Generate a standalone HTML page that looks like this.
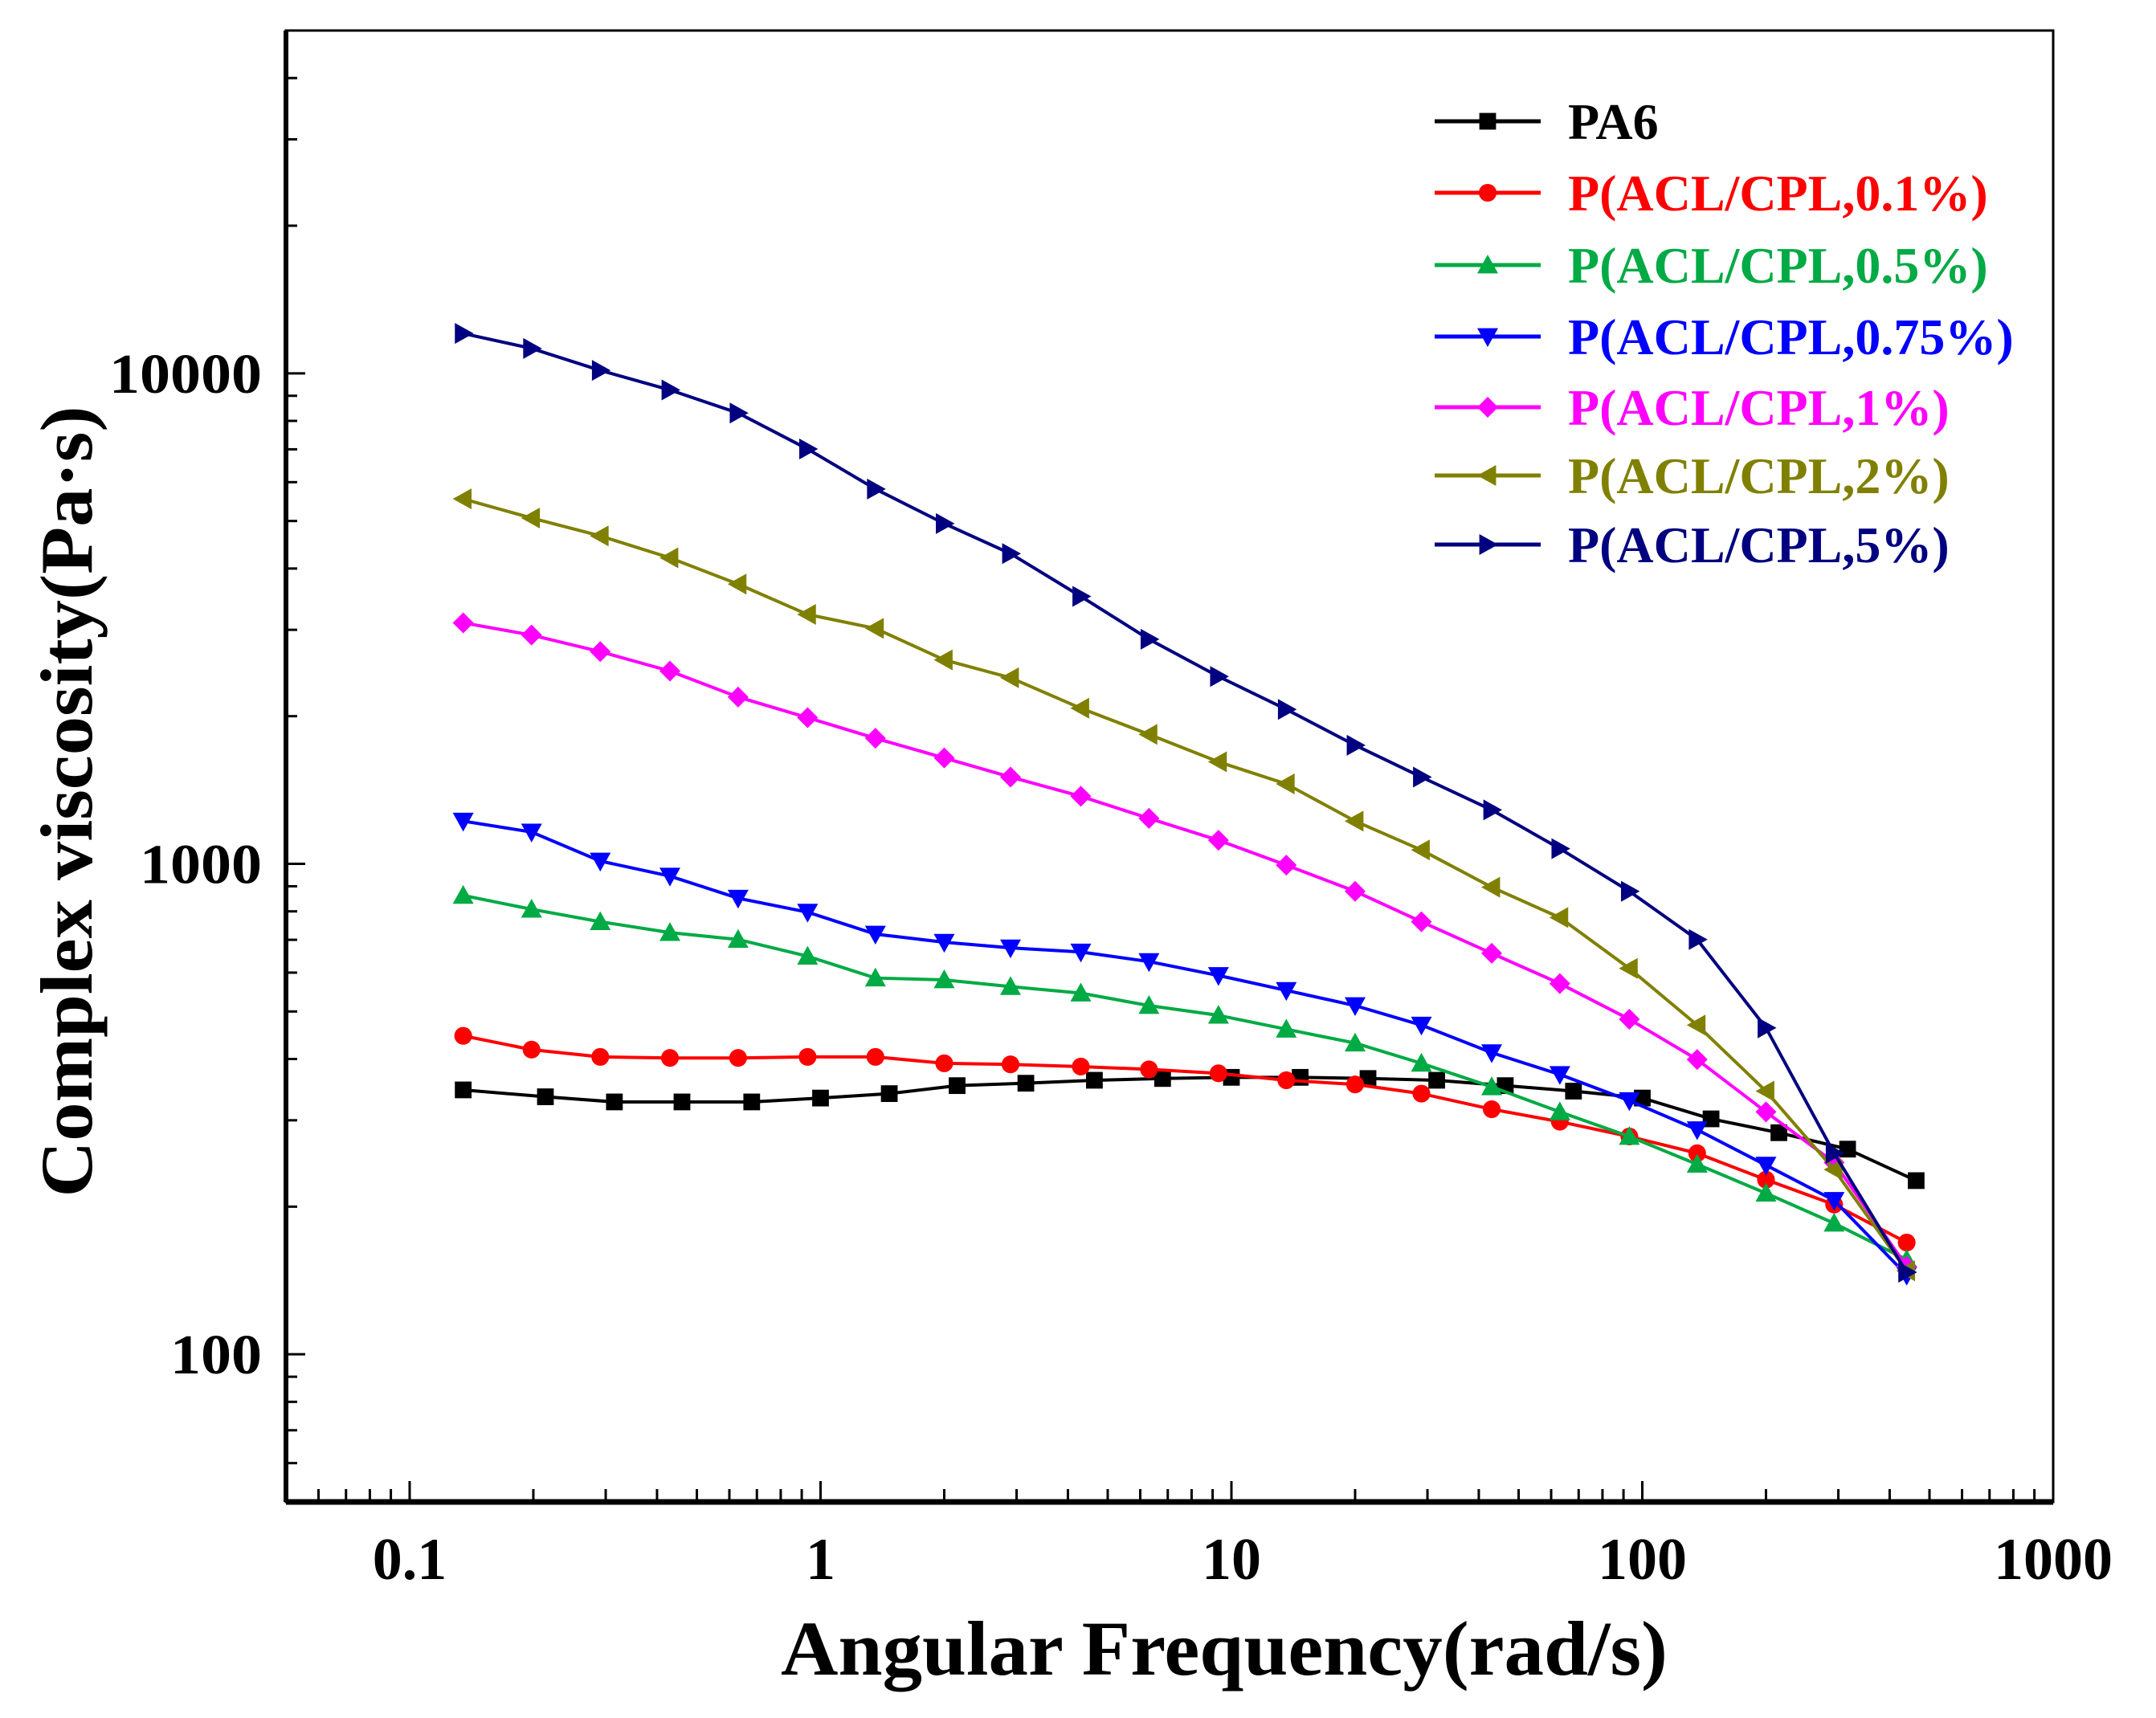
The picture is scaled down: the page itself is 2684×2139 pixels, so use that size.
<!DOCTYPE html>
<html><head><meta charset="utf-8"><style>
html,body{margin:0;padding:0;background:#fff;}
svg{display:block;font-family:"Liberation Serif",serif;font-weight:bold;}
</style></head><body>
<svg id="chart" width="2684" height="2139" viewBox="0 0 2684 2139" xmlns="http://www.w3.org/2000/svg">
<g id="plot"></g>
</svg>
<script>
const xStd = [0.135,0.198,0.291,0.43,0.63,0.93,1.36,2,2.9,4.3,6.3,9.3,13.6,20,29,43,63,93,136,200,293,440];
const xPA6 = [0.135,0.214,0.315,0.46,0.68,1,1.47,2.15,3.16,4.64,6.8,10,14.7,21.5,31.6,46.4,68,100,147,215,316,464];
const yPA6 = [346,335,327,327,327,333,340,353,357,362,365,367,367,365,362,353,344,333,302,283,262,226];
const yP01 = [446,418,404,402,402,404,404,392,390,386,381,374,362,355,340,316,298,278,257,227,202,169];
const yP05 = [862,808,762,724,701,648,585,580,562,545,514,491,460,431,392,351,312,278,244,213,185,156];
const yP075 = [1222,1161,1013,944,851,797,719,692,674,661,632,592,552,514,469,412,372,329,287,243,206,145];
const yP1 = [3100,2927,2708,2472,2188,1986,1803,1644,1503,1373,1238,1117,994,879,762,657,570,482,399,312,246,151];
const yP2 = [5546,5070,4662,4206,3718,3224,3020,2605,2395,2076,1836,1614,1455,1222,1067,896,777,612,469,344,238,148];
const yP5 = [12060,11240,10140,9250,8300,7010,5810,4940,4290,3510,2870,2410,2065,1745,1503,1288,1074,879,701,463,257,147];
const seriesNames = ["PA6","P(ACL/CPL,0.1%)","P(ACL/CPL,0.5%)","P(ACL/CPL,0.75%)","P(ACL/CPL,1%)","P(ACL/CPL,2%)","P(ACL/CPL,5%)"];
const xTickVals = [0.1,1,10,100,1000];
const xTickLabels = ["0.1","1","10","100","1000"];
const yTickVals = [100,1000,10000];
const yTickLabels = ["100","1000","10000"];

const NS="http://www.w3.org/2000/svg";
const L=356,R=2556,T=38,B=1870;
const xmin=Math.log10(0.05),xmax=3, ymin=Math.log10(50),ymax=Math.log10(50000);
const X=v=>L+(Math.log10(v)-xmin)/(xmax-xmin)*(R-L);
const Y=v=>B-(Math.log10(v)-ymin)/(ymax-ymin)*(B-T);
const g=document.getElementById('plot');
function mk(tag,attrs,parent){const e=document.createElementNS(NS,tag);for(const k in attrs)e.setAttribute(k,attrs[k]);(parent||g).appendChild(e);return e;}

const frame=mk('rect',{x:L,y:T,width:R-L,height:B-T,fill:'none',stroke:'#000','stroke-width':3});


mk('line',{x1:L,y1:T,x2:L,y2:B,stroke:'#000','stroke-width':6});
mk('line',{x1:L,y1:B,x2:R,y2:B,stroke:'#000','stroke-width':7});

for(let d=-2;d<=2;d++){for(let m=1;m<=9;m++){const v=m*Math.pow(10,d);if(v<0.05||v>1000)continue;const x=X(v);
 const len=m==1?26:16;const t=mk('line',{x1:x,y1:B,x2:x,y2:B-len,stroke:'#000','stroke-width':3});
 
 }}
mk('line',{x1:X(1000),y1:B,x2:X(1000),y2:B-26,stroke:'#000','stroke-width':3});
xTickVals.forEach((v,i)=>{const t=mk('text',{x:X(v),y:1966,'text-anchor':'middle','font-size':74});t.textContent=xTickLabels[i];
 
 });
for(let d=1;d<=4;d++){for(let m=1;m<=9;m++){const v=m*Math.pow(10,d);if(v<50||v>50000)continue;const y=Y(v);
 const len=m==1?24:14;const t=mk('line',{x1:L,y1:y,x2:L+len,y2:y,stroke:'#000','stroke-width':3});
 
 }}
yTickVals.forEach((v,i)=>{const t=mk('text',{x:326,y:Y(v)+24,'text-anchor':'end','font-size':70,textLength:yTickLabels[i].length*38,lengthAdjust:'spacingAndGlyphs'});t.textContent=yTickLabels[i];
 
 });
const xt=mk('text',{x:1524,y:2085,'text-anchor':'middle','font-size':96,textLength:1104,lengthAdjust:'spacingAndGlyphs'});xt.textContent='Angular Frequency(rad/s)';


const yt=mk('text',{x:0,y:0,'text-anchor':'middle','font-size':92,textLength:985,lengthAdjust:'spacingAndGlyphs',transform:'translate(114,998) rotate(-90)'});yt.textContent='Complex viscosity(Pa·s)';



const colors=['#000000','#ff0000','#00aa44','#0000ff','#ff00ff','#808000','#000080'];
const ys=[yPA6,yP01,yP05,yP075,yP1,yP2,yP5];
const s=13;
function marker(k,x,y,par){const c=colors[k];
 if(k==0)return mk('rect',{x:x-s*0.8,y:y-s*0.8,width:s*1.6,height:s*1.6,fill:c},par);
 if(k==1)return mk('circle',{cx:x,cy:y,r:s*0.85,fill:c},par);
 let p;
 if(k==2)p=[[x,y-s],[x+s,y+s*0.8],[x-s,y+s*0.8]];
 if(k==3)p=[[x,y+s],[x+s,y-s*0.8],[x-s,y-s*0.8]];
 if(k==4)p=[[x,y-s],[x+s,y],[x,y+s],[x-s,y]];
 if(k==5)p=[[x-s,y],[x+s*0.8,y-s],[x+s*0.8,y+s]];
 if(k==6)p=[[x+s,y],[x-s*0.8,y-s],[x-s*0.8,y+s]];
 return mk('polygon',{points:p.map(q=>q.join(',')).join(' '),fill:c},par);}
ys.forEach((arr,k)=>{const xs=k==0?xPA6:xStd;
 const grp=mk('g',{});
 
 
 mk('polyline',{points:arr.map((v,i)=>X(xs[i])+','+Y(v)).join(' '),fill:'none',stroke:colors[k],'stroke-width':4},grp);
 arr.forEach((v,i)=>{const m=marker(k,X(xs[i]),Y(v),grp);
  
  });
});
const legY=[151,240,330,419,507,592,678];
seriesNames.forEach((n,k)=>{const lg=mk('g',{});
 
 
 const y=legY[k];
 mk('line',{x1:1786,y1:y,x2:1918,y2:y,stroke:colors[k],'stroke-width':5},lg);
 marker(k,1852,y,lg);
 const t=mk('text',{x:1952,y:y+22,'font-size':64,fill:colors[k]},lg);t.textContent=n;});
</script>
</body></html>
